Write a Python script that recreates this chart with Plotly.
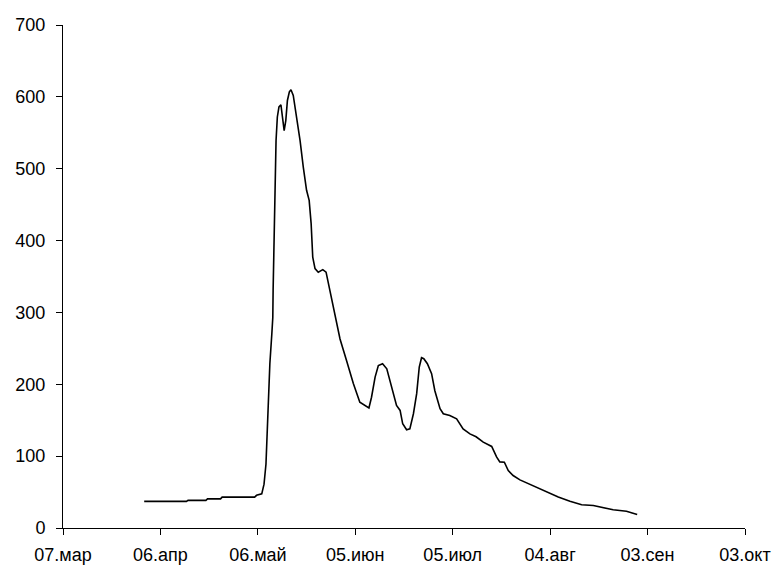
import pandas as pd
import plotly.graph_objects as go

# Data: days since 07 March, and the plotted value
start_date = "2001-03-07"
days_since_start = [25, 38, 38.5, 44, 44.5, 48.5, 49, 59, 59.6, 61.2, 61.9, 62.5, 62.9, 63.3,
                    63.7, 64.3, 64.6, 64.7, 65.0, 65.3, 65.6, 66.0, 66.5, 67.1, 67.6, 68.1,
                    68.6, 69.1, 69.7, 70.2, 70.9, 72.0, 73.0, 74.0, 75.0, 75.8, 76.4, 76.9,
                    77.6, 78.6, 80.0, 81.0, 82.2, 83.7, 85.3, 87.3, 89.4, 91.4, 93.0, 94.2,
                    95.0, 96.1, 97.1, 98.4, 99.7, 101.2, 102.7, 103.8, 104.6, 105.8, 106.8,
                    107.9, 108.9, 109.7, 110.4, 111.1, 112.2, 113.5, 114.5, 116.1, 117.1,
                    119.1, 121.2, 123.2, 125.3, 127.2, 129.4, 132.0, 133.5, 134.5, 135.9,
                    137.1, 138.6, 140.7, 143.3, 146.3, 148.9, 152.5, 156.1, 159.7, 163.3,
                    166.3, 169.4, 173.5, 175.6, 176.8]
values = [37, 37, 38.5, 38.5, 40.5, 40.5, 43, 43, 45.5, 47.5, 61, 89, 136, 182,
          229, 270, 293, 331, 400, 462, 539, 572, 586, 589, 572, 553,
          567, 595, 607, 610, 602, 572, 539, 502, 470, 456, 424, 377,
          361, 356, 359.5, 356, 331, 298, 263, 233, 201, 175, 170.5, 167,
          182, 210, 226, 228.6, 221.6, 196, 170.5, 163.6, 145, 136.7, 138,
          159, 187, 224, 237, 235.6, 228.6, 214.7, 191, 166, 159,
          156.6, 152, 138, 131, 127, 119.5, 113.5, 99, 92, 91.6,
          80, 73, 67, 61.5, 56, 50, 43, 37.3, 32.3, 31.3,
          28, 25.3, 23.4, 21, 18.8]

tick_days = [0, 30, 60, 90, 120, 150, 180, 210]
tick_labels = ["07.мар", "06.апр", "06.май", "05.июн", "05.июл", "04.авг", "03.сен", "03.окт"]
y_ticks = [0, 100, 200, 300, 400, 500, 600, 700]

t0 = pd.Timestamp(start_date)
dates = [t0 + pd.Timedelta(days=d) for d in days_since_start]
tick_dates = [t0 + pd.Timedelta(days=d) for d in tick_days]

fig = go.Figure()
fig.add_trace(go.Scatter(x=dates, y=values, mode="lines",
                         line=dict(color="black", width=1.6), showlegend=False))

font = dict(family="Liberation Sans, Arial, sans-serif", size=18, color="black")
fig.update_layout(
    width=776, height=566,
    margin=dict(l=63, r=31, t=25, b=38),
    paper_bgcolor="white", plot_bgcolor="white",
    font=font,
    xaxis=dict(type="date", range=[tick_dates[0], tick_dates[-1]],
               tickmode="array", tickvals=tick_dates, ticktext=tick_labels,
               showline=True, linecolor="black", linewidth=1,
               ticks="outside", ticklen=6, tickcolor="black", tickwidth=1,
               showgrid=False, zeroline=False, automargin=False,
               ticklabelstandoff=4),
    yaxis=dict(range=[0, 700], tickmode="array", tickvals=y_ticks,
               showline=True, linecolor="black", linewidth=1,
               ticks="outside", ticklen=6, tickcolor="black", tickwidth=1,
               showgrid=False, zeroline=False, automargin=False,
               ticklabelstandoff=7),
)

fig.write_html("out.html", config={"displayModeBar": False},
               post_script="document.body.style.margin='0';document.body.style.overflow='hidden';")
